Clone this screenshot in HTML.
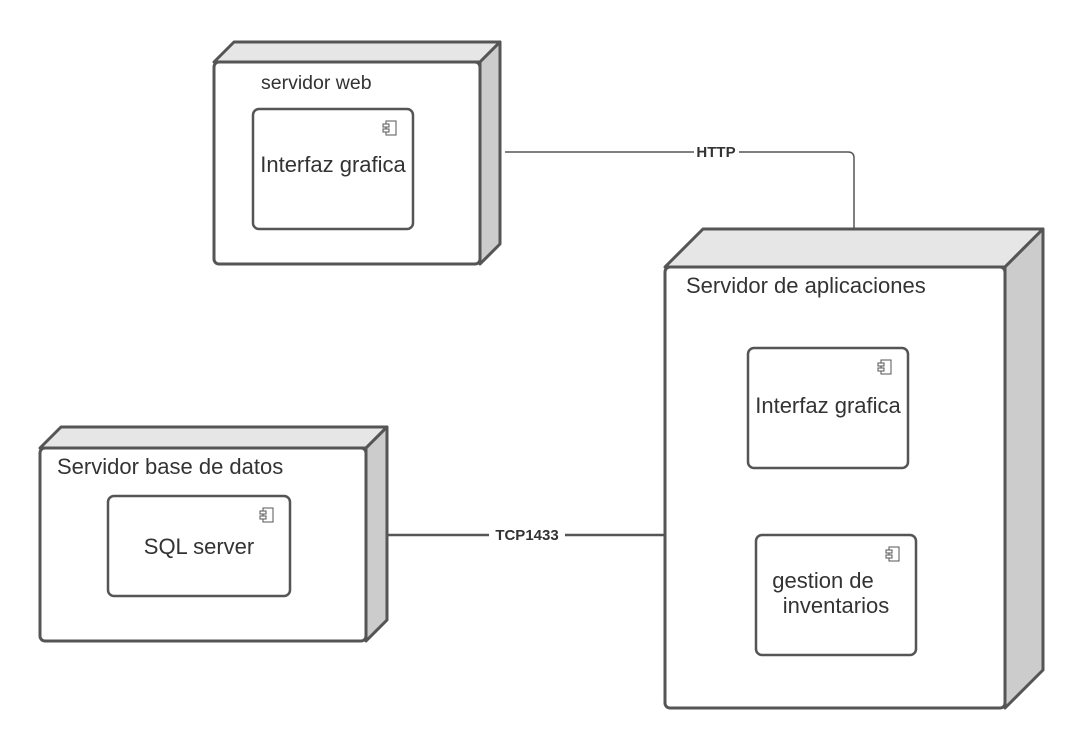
<!DOCTYPE html>
<html><head><style>body{margin:0;background:#fff}svg{display:block}text{font-family:"Liberation Sans",sans-serif;fill:#333}</style></head><body>
<svg width="1084" height="748" viewBox="0 0 1084 748" xmlns="http://www.w3.org/2000/svg">
<defs>
<g id="ic"><rect x="3" y="0" width="10" height="14" fill="#fff" stroke="#555" stroke-width="1"/><rect x="0" y="3" width="6" height="3" fill="#fff" stroke="#555" stroke-width="1"/><rect x="0" y="8" width="6" height="3" fill="#fff" stroke="#555" stroke-width="1"/></g>
</defs>
<path d="M505 152 H848 Q854 152 854 158 V229" fill="none" stroke="#555" stroke-width="1.5"/>
<rect x="694" y="144" width="45" height="16" fill="#fff"/>
<text x="716" y="157" font-size="15" font-weight="bold" text-anchor="middle">HTTP</text>
<path d="M388 535 H665" stroke="#555" stroke-width="2.5"/>
<rect x="489" y="527" width="76" height="16" fill="#fff"/>
<text x="527" y="540" font-size="15" font-weight="bold" text-anchor="middle">TCP1433</text>

<g stroke="#555" stroke-width="3" stroke-linejoin="round">
<path d="M214 62 L234 42 H500 L480 62 Z" fill="#e6e6e6"/>
<path d="M480 62 L500 42 V244 L480 264 Z" fill="#cccccc"/>
<rect x="214" y="62" width="266" height="202" rx="5" fill="#fff"/>
</g>
<text x="261" y="89" font-size="19.5">servidor web</text>
<rect x="253" y="109" width="160" height="120" rx="6" fill="#fff" stroke="#555" stroke-width="2.5"/>
<use href="#ic" x="383" y="121"/>
<text x="333" y="172" font-size="22" text-anchor="middle">Interfaz grafica</text>

<g stroke="#555" stroke-width="3" stroke-linejoin="round">
<path d="M665 267 L703 229 H1043 L1005 267 Z" fill="#e6e6e6"/>
<path d="M1005 267 L1043 229 V670 L1005 708 Z" fill="#cccccc"/>
<rect x="665" y="267" width="340" height="441" rx="5" fill="#fff"/>
</g>
<text x="686" y="293" font-size="22">Servidor de aplicaciones</text>
<rect x="748" y="348" width="160" height="120" rx="6" fill="#fff" stroke="#555" stroke-width="2.5"/>
<use href="#ic" x="878" y="360"/>
<text x="828" y="413" font-size="22" text-anchor="middle">Interfaz grafica</text>
<rect x="756" y="535" width="160" height="120" rx="6" fill="#fff" stroke="#555" stroke-width="2.5"/>
<use href="#ic" x="886" y="547"/>
<text x="823" y="588" font-size="22" text-anchor="middle">gestion de</text>
<text x="836" y="613" font-size="22" text-anchor="middle">inventarios</text>

<g stroke="#555" stroke-width="3" stroke-linejoin="round">
<path d="M40 448 L61 427 H387 L366 448 Z" fill="#e6e6e6"/>
<path d="M366 448 L387 427 V620 L366 641 Z" fill="#cccccc"/>
<rect x="40" y="448" width="326" height="193" rx="5" fill="#fff"/>
</g>
<text x="57" y="474" font-size="22">Servidor base de datos</text>
<rect x="108" y="496" width="182" height="100" rx="6" fill="#fff" stroke="#555" stroke-width="2.5"/>
<use href="#ic" x="260" y="508"/>
<text x="199" y="554" font-size="22" text-anchor="middle">SQL server</text>
</svg>
</body></html>
